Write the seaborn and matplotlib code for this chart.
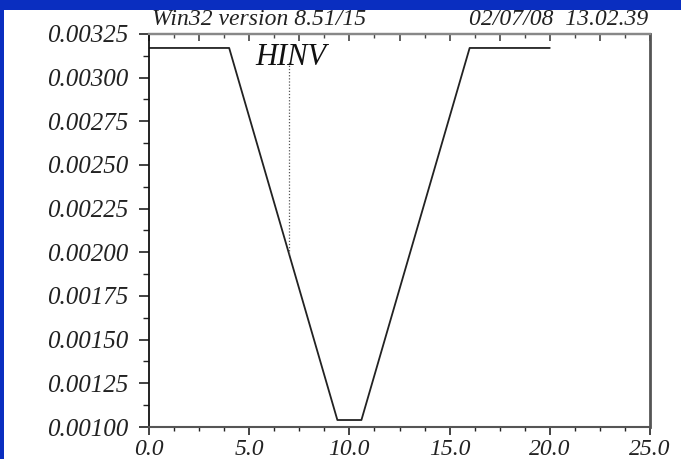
import matplotlib
matplotlib.use("Agg")
import matplotlib.pyplot as plt
from matplotlib.patches import Rectangle
from matplotlib.ticker import MultipleLocator, FormatStrFormatter
import seaborn as sns

# Profile of HINV along the run coordinate
x_vals = [0.0, 4.0, 9.4, 10.6, 16.0, 20.0]
hinv_vals = [0.00317, 0.00317, 0.00104, 0.00104, 0.00317, 0.00317]

# Probe marker position
probe_x = 7.0
probe_top = 0.00309
probe_bottom = 0.00199

header_left = "Win32 version 8.51/15"
header_right = "02/07/08  13.02.39"
curve_label = "HINV"

sns.set_style("ticks")
plt.rcParams["font.family"] = ["Liberation Serif", "DejaVu Serif"]
plt.rcParams["font.style"] = "italic"

fig = plt.figure(figsize=(6.81, 4.59), dpi=100, facecolor="white")
ax = fig.add_axes([149 / 681, 1 - 427 / 459, 501 / 681, 393 / 459])
ax.set_facecolor("white")

sns.lineplot(x=x_vals, y=hinv_vals, ax=ax, sort=False, estimator=None,
             color="#222222", linewidth=1.3)
ax.plot([probe_x, probe_x], [probe_bottom, probe_top], color="#555555",
        linewidth=0.9, linestyle=(0, (1, 1.5)))
ax.text(5.3, 0.003073, curve_label, fontsize=22, fontstyle="italic",
        ha="left", va="baseline", color="#111111")

ax.set_xlim(0, 25)
ax.set_ylim(0.001, 0.00325)

ax.xaxis.set_major_locator(MultipleLocator(5))
ax.xaxis.set_minor_locator(MultipleLocator(1.25))
ax.xaxis.set_major_formatter(FormatStrFormatter("%.1f"))
ax.yaxis.set_major_locator(MultipleLocator(0.00025))
ax.yaxis.set_minor_locator(MultipleLocator(0.000125))
ax.yaxis.set_major_formatter(FormatStrFormatter("%.5f"))

ax.tick_params(axis="x", which="both", direction="out", bottom=True, top=False,
               labelsize=17, colors="#222222", pad=2.5)
ax.tick_params(axis="x", which="major", length=6, width=1.2)
ax.tick_params(axis="x", which="minor", length=3, width=1.0)
ax.tick_params(axis="y", which="both", direction="out", left=True, right=False,
               labelsize=18, colors="#222222", pad=8)
ax.tick_params(axis="y", which="major", length=7, width=1.2)
ax.tick_params(axis="y", which="minor", length=4, width=1.0)

top = ax.secondary_xaxis("top")
top.xaxis.set_major_locator(MultipleLocator(2.5))
top.xaxis.set_minor_locator(MultipleLocator(1.25))
top.tick_params(which="both", direction="in", labeltop=False, colors="#444444")
top.tick_params(which="major", length=5, width=1.2)
top.tick_params(which="minor", length=3, width=1.0)
top.spines["top"].set_color("#888888")
top.spines["top"].set_linewidth(1.6)

for side, col, lw in [("left", "#111111", 1.3), ("bottom", "#555555", 1.5),
                      ("top", "#888888", 1.6), ("right", "#555555", 2.0)]:
    ax.spines[side].set_visible(True)
    ax.spines[side].set_color(col)
    ax.spines[side].set_linewidth(lw)

fig.text(152 / 681, 1 - 25 / 459, header_left, fontsize=17, fontstyle="italic",
         ha="left", va="baseline", color="#222222", zorder=5)
fig.text(648 / 681, 1 - 25 / 459, header_right, fontsize=17, fontstyle="italic",
         ha="right", va="baseline", color="#222222", zorder=5)

blue = "#0a2ec0"
fig.patches.append(Rectangle((0, 1 - 9.5 / 459), 1, 9.5 / 459,
                             transform=fig.transFigure, facecolor=blue,
                             edgecolor="none", zorder=10))
fig.patches.append(Rectangle((0, 0), 3.5 / 681, 1,
                             transform=fig.transFigure, facecolor=blue,
                             edgecolor="none", zorder=10))

fig.savefig("out.png", dpi=100, facecolor="white")
